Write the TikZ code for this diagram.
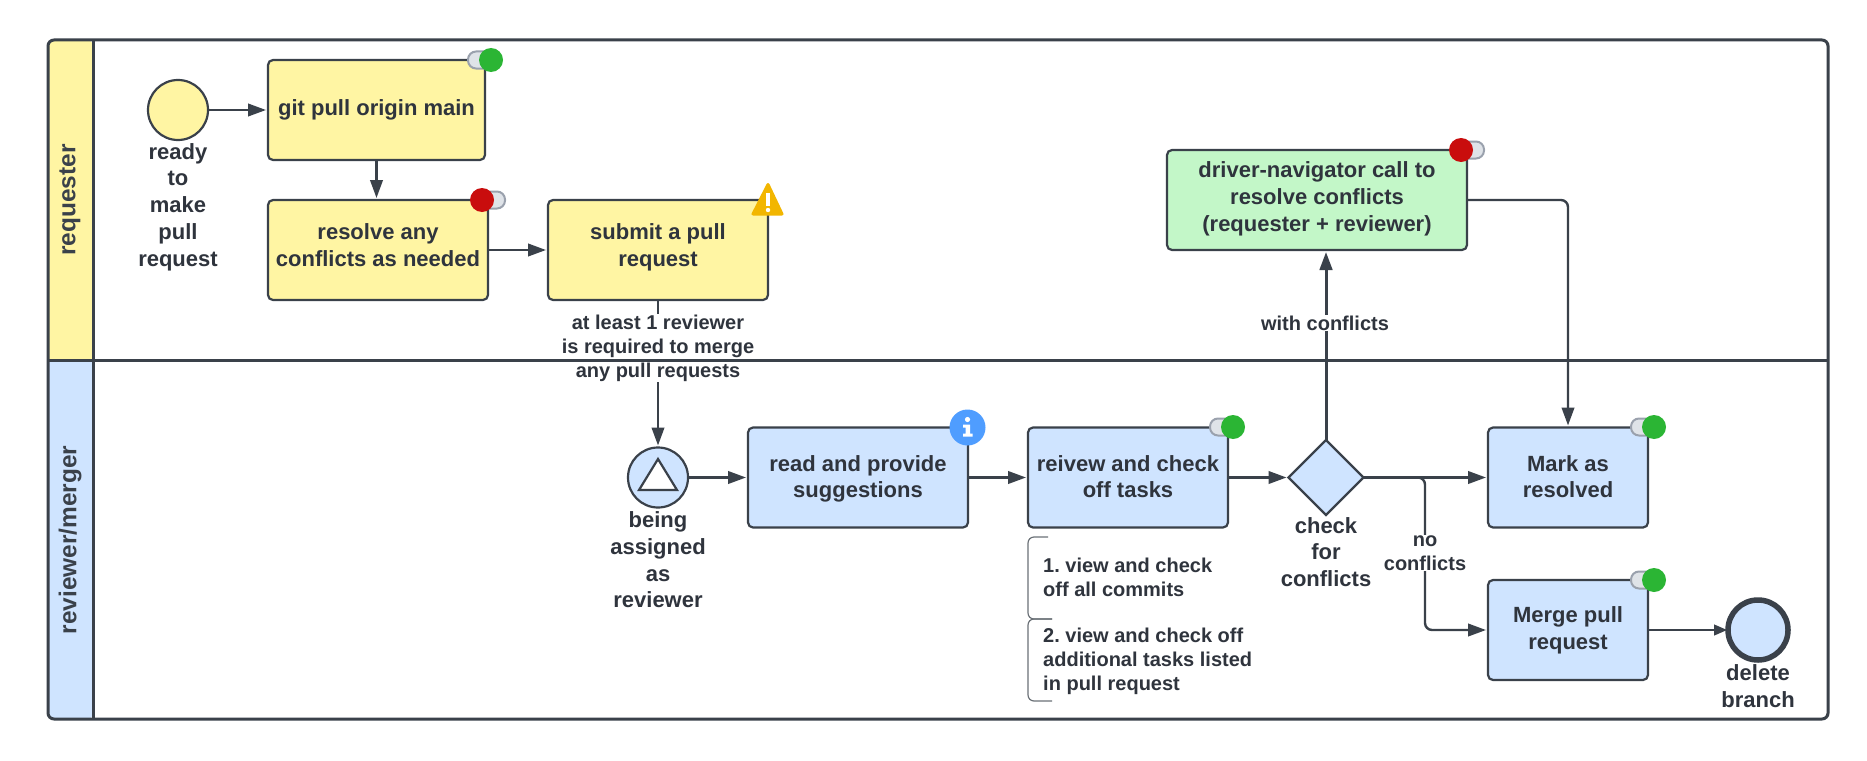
\documentclass[tikz,border=0pt]{standalone}
\usepackage{fontspec}
\setmainfont{Liberation Sans}
\usetikzlibrary{arrows.meta,shapes.geometric}
\definecolor{ink}{HTML}{3A414A}
\definecolor{txt}{HTML}{2F343D}
\definecolor{lyellow}{HTML}{FFF5A3}
\definecolor{lblue}{HTML}{CFE4FF}
\definecolor{lgreen}{HTML}{C3F7C8}
\definecolor{okgreen}{HTML}{2BB534}
\definecolor{badred}{HTML}{C90D0D}
\definecolor{pillf}{HTML}{DFE3E8}
\definecolor{pilld}{HTML}{9AA1AD}
\definecolor{warn}{HTML}{F2B600}
\definecolor{infob}{HTML}{4F9DFF}
\tikzset{
  x=1pt,y=-1pt,
  box/.style={draw=ink,line width=2.2pt,rounded corners=5pt,inner sep=0pt,outer sep=0pt,align=center,text=txt,
    font=\frenchspacing\fontsize{22}{26.7}\selectfont\bfseries},
  ybox/.style={box,fill=lyellow},
  bbox/.style={box,fill=lblue},
  gbox/.style={box,fill=lgreen},
  evt/.style={circle,draw=ink,line width=2.2pt,minimum size=60pt,inner sep=0pt,outer sep=0pt},
  lbl/.style={align=center,text=txt,inner sep=0pt,font=\fontsize{22}{26.7}\selectfont\bfseries},
  clbl/.style={align=center,text=txt,inner sep=1pt,fill=white,font=\frenchspacing\fontsize{20}{24}\selectfont\bfseries},
  note/.style={align=left,anchor=west,text=txt,inner sep=0pt,font=\frenchspacing\fontsize{20}{24}\selectfont\bfseries},
  conn/.style={draw=ink,line width=2.4pt,shorten >=2pt,-{Triangle[length=18pt,width=12.5pt]}},
  lane/.style={draw=ink,line width=3pt},
  lanetxt/.style={rotate=90,text=ink,inner sep=0pt,font=\fontsize{24.4}{28}\selectfont\bfseries},
  pill/.style={fill=pillf,draw=pilld,line width=2pt,rounded corners=8pt},
  brk/.style={draw=ink!75,line width=1.2pt,rounded corners=6pt},
}
\newcommand{\pillgreen}[3]{% left of pill, circle x, y
  \path[pill] (#1,#3-8.5) rectangle (#2+6,#3+8.5);
  \fill[okgreen] (#2,#3) circle (12);}
\newcommand{\pillred}[3]{% circle x, right of pill, y
  \path[pill] (#1-6,#3-8.5) rectangle (#2,#3+8.5);
  \fill[badred] (#1,#3) circle (12);}
\begin{document}
\begin{tikzpicture}
\useasboundingbox (0,0) rectangle (1867,760);
\fill[white] (0,0) rectangle (1867,760);
% lane headers
\fill[lyellow,rounded corners=6pt] (48,360) -- (48,40) -- (93,40) [sharp corners] -- (93,360) -- cycle;
\fill[lblue,rounded corners=6pt] (48,360) -- (48,719) -- (93,719) [sharp corners] -- (93,360) -- cycle;
\node[lanetxt] (lreq) at (70,200) {requester};
\node[lanetxt] (lrev) at (70,540) {reviewer/merger};

% nodes
\node[evt,fill=lyellow] (start) at (178,110) {};
\node[lbl] (startl) at (178,207) {ready\\to\\make\\pull\\request};
\node[ybox,minimum width=217pt,minimum height=100pt] (git) at (376.5,110) {git pull origin main};
\node[ybox,minimum width=220pt,minimum height=100pt] (res) at (378,250) {resolve any\\conflicts as needed\\[-17.3pt]\mbox{}};
\node[ybox,minimum width=220pt,minimum height=100pt] (sub) at (658,250) {submit a pull\\request\\[-16.9pt]\mbox{}};
\node[gbox,minimum width=300pt,minimum height=100pt] (drv) at (1317,200) {driver-navigator call to\\resolve conflicts\\(requester + reviewer)\\[-19.9pt]\mbox{}};

\node[evt,fill=lblue] (trig) at (658,477.5) {};
\node[lbl] (trigl) at (658,560) {being\\assigned\\as\\reviewer};
\node[bbox,minimum width=220pt,minimum height=100pt] (read) at (858,477.5) {read and provide\\suggestions\\[-24.5pt]\mbox{}};
\node[bbox,minimum width=200pt,minimum height=100pt] (rev) at (1128,477.5) {reivew and check\\off tasks\\[-24.7pt]\mbox{}};
\node[diamond,aspect=1,draw=ink,line width=2.2pt,fill=lblue,minimum width=75pt,minimum height=75pt,inner sep=0pt,outer sep=0pt] (chk) at (1326,477.5) {};
\node[lbl] (chkl) at (1326,552) {check\\for\\conflicts};
\node[bbox,minimum width=160pt,minimum height=100pt] (mark) at (1568,477.5) {Mark as\\resolved\\[-24.7pt]\mbox{}};
\node[bbox,minimum width=160pt,minimum height=100pt] (merge) at (1568,630) {Merge pull\\request};
\node[evt,fill=lblue,line width=5.5pt,minimum size=60pt] (endev) at (1758,630) {};
\node[lbl] (endl) at (1758,686) {delete\\branch};

\coordinate (nc) at (1425,477.5);

% connectors
\draw[conn] (start.east) -- (git.west);
\draw[conn] (git.south) -- (res.north -| git.south);
\draw[conn] (res.east) -- (sub.west);
\draw[conn] (sub.south) -- (trig.north);
\node[clbl] (subl) at (658,348) {at least 1 reviewer\\is required to merge\\any pull requests};
\draw[conn] (trig.east) -- (read.west);
\draw[conn] (read.east) -- (rev.west);
\draw[conn] (rev.east) -- (chk.west);
\draw[conn] (chk.east) -- (mark.west);
\draw[conn,rounded corners=7pt] (chk.east) -- (nc) |- (merge.west);
\node[clbl] (nol) at (1425,553) {no\\conflicts};
\draw[conn,line width=3pt] (chk.north) -- (chk.north |- drv.south);
\node[clbl] (wcl) at (1325,323) {with conflicts};
\draw[conn,rounded corners=7pt] (drv.east) -| (mark.north);
\draw[draw=ink,line width=1.1pt,shorten >=1pt,-{Triangle[length=13pt,width=11pt]}] (merge.east) -- (endev.west);

% lanes on top
\draw[lane] (48,360) -- (1828,360);
\draw[lane] (93,40) -- (93,719);
\draw[lane,rounded corners=6pt] (48,40) rectangle (1828,719);

% inner trigger triangle
\draw[draw=ink,line width=2.2pt,fill=white,line join=miter] (658,459) -- (677,490) -- (639,490) -- cycle;

% brackets and notes
\draw[brk] (1048,537) -- (1028,537) -- (1028,619) -- (1052,619);
\draw[brk] (1052,619) -- (1028,619) -- (1028,701) -- (1052,701);
\node[note] (n1) at (1043,577) {1. view and check\\off all commits};
\node[note] (n2) at (1043,661) {2. view and check off\\additional tasks listed\\in pull request};

% status markers
\pillgreen{468}{491}{60}
\pillred{482}{505}{200}
\pillred{1461}{1484}{150}
\pillgreen{1210}{1233}{427}
\pillgreen{1631}{1654}{427}
\pillgreen{1631}{1654}{580}
% warning icon
\fill[warn,draw=warn,line width=3pt,line join=round] (768,184.5) -- (782,214) -- (753,214) -- cycle;
\fill[white] (766.2,193) rectangle (769.8,206);
\fill[white] (768,210) circle (2.2);
% info icon
\fill[infob] (967.5,427.5) circle (18);
\fill[white] (967.5,419.5) circle (2.6);
\fill[white] (963,424.5) -- (970,424.5) -- (970,433.5) -- (972.5,433.5) -- (972.5,436.5) -- (963,436.5) -- (963,433.5) -- (965.5,433.5) -- (965.5,427.5) -- (963,427.5) -- cycle;
\end{tikzpicture}
\end{document}
